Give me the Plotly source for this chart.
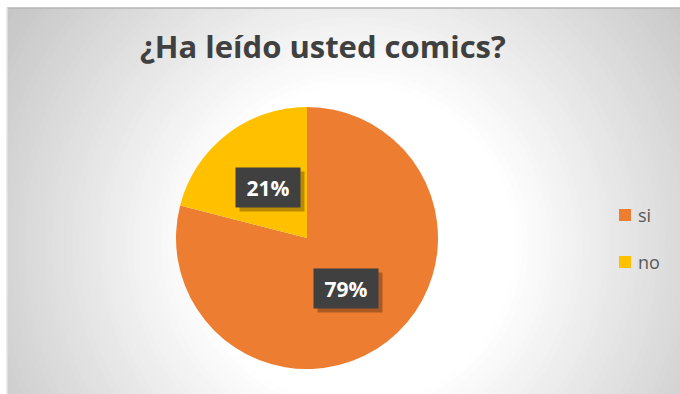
import math
import plotly.graph_objects as go

# ---- data ----
labels = ["si", "no"]
values = [79, 21]
colors = ["#ED7D31", "#FFC000"]
title_text = "¿Ha leído usted comics?"

# ---- layout constants (plot-area pixel units) ----
W, H = 680, 394
ML, MT = 7, 8
PW, PH = W - ML, H - MT          # plot area size
CX, CY, R = 300, 156, 131        # pie centre / radius inside plot area (y up)

fig = go.Figure()

# invisible cartesian axes used for background & annotation placement
fig.add_trace(go.Scatter(x=[0, PW], y=[0, PH], mode="markers",
                         marker=dict(opacity=0), hoverinfo="skip", showlegend=False))

fig.add_trace(go.Pie(
    labels=labels, values=values, sort=False, direction="clockwise", rotation=0,
    marker=dict(colors=colors, line=dict(width=0)),
    textinfo="none", hoverinfo="label+percent", showlegend=False,
    domain=dict(x=[(CX - R) / PW, (CX + R) / PW], y=[(CY - R) / PH, (CY + R) / PH]),
))

shapes = []
# radial gradient background (concentric rings)
gx, gy = 348, PH - (245 - MT)
r_white, r_max, k = 160, 460, 0.22
steps = 44
for i in range(steps + 1):
    r = r_max - (r_max - r_white) * i / steps
    c = int(round(255 - k * (r - r_white)))
    c = max(0, min(255, c))
    shapes.append(dict(type="circle", xref="x", yref="y", layer="below",
                       x0=gx - r, x1=gx + r, y0=gy - r, y1=gy + r,
                       fillcolor=f"rgb({c},{c},{c})", line=dict(width=0)))
# top and left edges
shapes.append(dict(type="line", xref="paper", yref="paper", x0=0, x1=1, y0=1, y1=1,
                   line=dict(color="#B4B4B4", width=1.5), layer="above"))
shapes.append(dict(type="line", xref="paper", yref="paper", x0=0, x1=0, y0=0, y1=1,
                   line=dict(color="#E6E6E6", width=1.5), layer="above"))

annotations = []
# data labels
total = sum(values)
cum = 0
for v in values:
    mid = (cum + v / 2) / total * 2 * math.pi
    cum += v
    lx = CX + 0.49 * R * math.sin(mid)
    ly = CY + 0.49 * R * math.cos(mid)
    pct = f"{round(v / total * 100)}%"
    annotations.append(dict(x=lx, y=ly, xref="x", yref="y", text=" ", showarrow=False,
                            width=64, height=39, bgcolor="rgba(0,0,0,0.28)",
                            xshift=4, yshift=-4, borderpad=0))
    annotations.append(dict(x=lx, y=ly, xref="x", yref="y", text=f"<b>{pct}</b>",
                            showarrow=False, width=64, height=39, bgcolor="#404040",
                            borderpad=0,
                            font=dict(family="Open Sans", size=21, color="white")))

# title
annotations.append(dict(x=316, y=PH - (46 - MT), xref="x", yref="y",
                        text=f"<b>{title_text}</b>", showarrow=False,
                        font=dict(family="Open Sans", size=31, color="#404040")))

# legend
leg_y = [PH - (215 - MT), PH - (262 - MT)]
for lab, col, yy in zip(labels, colors, leg_y):
    shapes.append(dict(type="rect", xref="x", yref="y", x0=612, x1=624,
                       y0=yy - 6, y1=yy + 6, fillcolor=col, line=dict(width=0)))
    annotations.append(dict(x=629, y=yy, xref="x", yref="y", text=lab, showarrow=False,
                            xanchor="left", yanchor="middle",
                            font=dict(family="Open Sans", size=18, color="#595959")))

fig.update_layout(
    width=W, height=H,
    margin=dict(l=ML, r=0, t=MT, b=0, pad=0),
    paper_bgcolor="white", plot_bgcolor="#C4C4C4",
    xaxis=dict(range=[0, PW], visible=False, fixedrange=True),
    yaxis=dict(range=[0, PH], visible=False, fixedrange=True),
    shapes=shapes, annotations=annotations, showlegend=False,
)

fig.write_html("out.html")
